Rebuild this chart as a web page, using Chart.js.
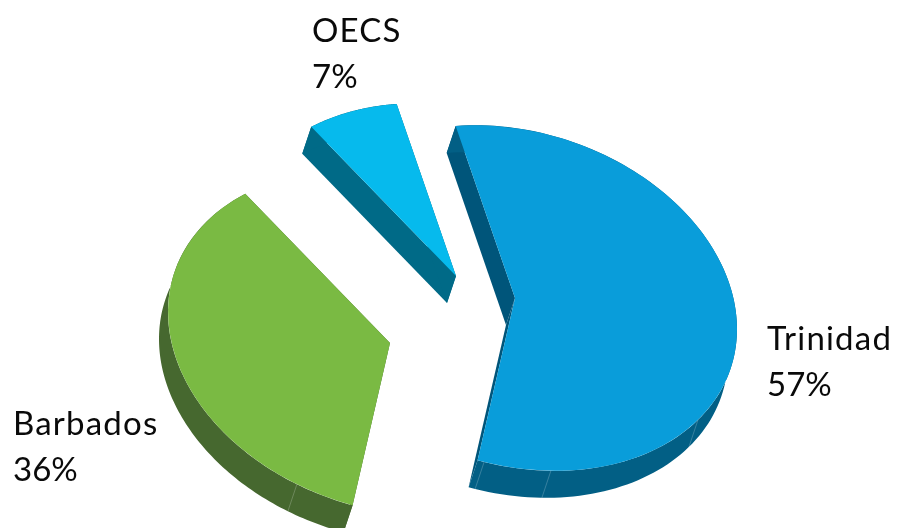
<!DOCTYPE html>
<html>
<head>
<meta charset="utf-8">
<style>
  html, body { margin: 0; background: #fff; }
  canvas { display: block; }
</style>
<script src="https://cdn.jsdelivr.net/npm/chart.js@4/dist/chart.umd.js"></script>
</head>
<body>
<canvas id="pie" width="898" height="528"></canvas>
<script>
// Data
const categories = ['Trinidad', 'Barbados', 'OECS'];
const shares = [57, 36, 7];

// Slice colours: top face, outer wall, cut wall
const topColors = ['#099dda', '#7aba43', '#06baed'];
const wallColors = ['#025f85', '#46682f', '#006a87'];
const cutColors = ['#00557a', '#46682f', '#006a87'];

// Faux 3D look, in screen pixels
const pieRadiusX = 222;
const pieRadiusY = 170;
const pieTilt = 0.14;
const depth = [-9, 27];
const explode = [[66, 34], [-59, 79], [7, 12]];
const seams = [[124.5, 170.7, 188], [204.8], []]; // degrees clockwise from 12 o'clock

const labelPos = [[767, 350], [13, 435], [312, 42]];
const labelFont = '33px Lato';
const lineGap = 46;

const pie3d = {
  id: 'pie3d',
  beforeDatasetsDraw(chart) {
    const ctx = chart.ctx;
    const arcs = chart.getDatasetMeta(0).data;

    arcs.forEach((arc, i) => {
      const sx = pieRadiusX / arc.outerRadius;
      const sy = pieRadiusY / arc.outerRadius;
      const k = pieTilt * sx;
      const ax = arc.x + explode[i][0];
      const ay = arc.y + explode[i][1];

      // point on the rim of this slice, on screen
      const rim = (angle) => {
        const x = Math.cos(angle) * arc.outerRadius;
        const y = Math.sin(angle) * arc.outerRadius;
        return [ax + sx * x, ay + k * x + sy * y];
      };
      const fillPoly = (pts, color) => {
        ctx.beginPath();
        pts.forEach((p, n) => (n ? ctx.lineTo(p[0], p[1]) : ctx.moveTo(p[0], p[1])));
        ctx.closePath();
        ctx.fillStyle = color;
        ctx.fill();
      };
      const down = (p) => [p[0] + depth[0], p[1] + depth[1]];

      // cut walls
      const apex = [ax, ay];
      [arc.startAngle, arc.endAngle].forEach((a) => {
        const p = rim(a);
        fillPoly([apex, p, down(p), down(apex)], cutColors[i]);
      });

      // outer wall
      const rimPts = [];
      for (let n = 0; n <= 120; n++) {
        rimPts.push(rim(arc.startAngle + (arc.endAngle - arc.startAngle) * n / 120));
      }
      fillPoly(rimPts.concat(rimPts.map(down).reverse()), wallColors[i]);

      // seams on the wall
      seams[i].forEach((deg) => {
        const p = rim((deg - 90) * Math.PI / 180);
        const q = down(p);
        ctx.beginPath();
        ctx.moveTo(p[0], p[1]);
        ctx.lineTo(q[0], q[1]);
        ctx.lineWidth = 0.7;
        ctx.strokeStyle = 'rgba(255,255,255,0.3)';
        ctx.stroke();
      });

      // top face, drawn by the arc element itself
      ctx.save();
      ctx.translate(ax, ay);
      ctx.transform(sx, k, 0, sy, 0, 0);
      ctx.translate(-arc.x, -arc.y);
      arc.draw(ctx);
      ctx.restore();
    });
    return false;
  },
  afterDraw(chart) {
    const ctx = chart.ctx;
    ctx.save();
    ctx.font = labelFont;
    ctx.fillStyle = '#0a0a0a';
    ctx.textBaseline = 'alphabetic';
    categories.forEach((name, i) => {
      ctx.letterSpacing = '1.2px';
      ctx.fillText(name, labelPos[i][0], labelPos[i][1]);
      ctx.letterSpacing = '0px';
      ctx.fillText(shares[i] + '%', labelPos[i][0], labelPos[i][1] + lineGap);
    });
    ctx.restore();
  }
};

new Chart(document.getElementById('pie'), {
  type: 'pie',
  data: {
    labels: categories,
    datasets: [{
      data: shares,
      backgroundColor: topColors,
      borderWidth: 0
    }]
  },
  options: {
    responsive: false,
    animation: false,
    rotation: -15.5,
    events: [],
    plugins: {
      legend: { display: false },
      tooltip: { enabled: false }
    }
  },
  plugins: [pie3d]
});
</script>
</body>
</html>
